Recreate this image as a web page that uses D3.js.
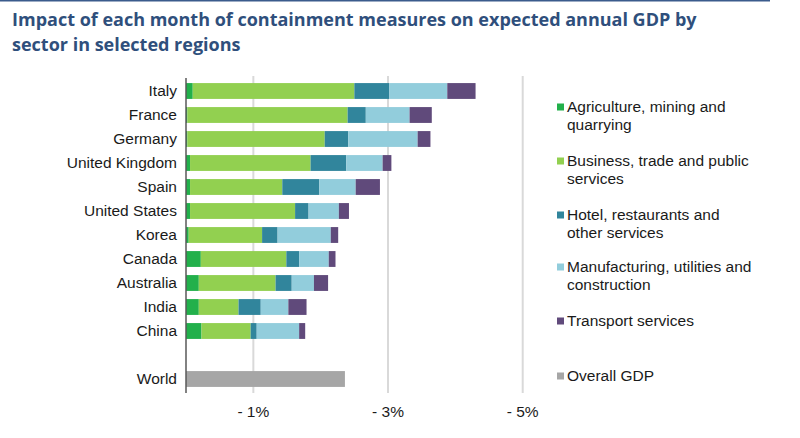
<!DOCTYPE html>
<html>
<head>
<meta charset="utf-8">
<script src="https://cdn.jsdelivr.net/npm/d3@7"></script>
<style>
  body { margin: 0; background: #fff; }
  svg { display: block; }
</style>
</head>
<body>
<div id="chart"></div>
<script>
// regions, top to bottom ("" is the empty row before World)
const regions = ["Italy", "France", "Germany", "United Kingdom", "Spain", "United States",
  "Korea", "Canada", "Australia", "India", "China", "", "World"];

const sectors = ["Agriculture, mining and quarrying", "Business, trade and public services",
  "Hotel, restaurants and other services", "Manufacturing, utilities and construction",
  "Transport services"];

// % of annual GDP lost, per sector, one entry per region (Italy..China)
const agriculture   = [0.10, 0.02, 0.02, 0.06, 0.06, 0.06, 0.04, 0.22, 0.19, 0.19, 0.23];
const business      = [2.40, 2.38, 2.04, 1.79, 1.37, 1.56, 1.09, 1.27, 1.14, 0.59, 0.73];
const hotel         = [0.52, 0.27, 0.35, 0.53, 0.55, 0.20, 0.23, 0.19, 0.24, 0.33, 0.09];
const manufacturing = [0.86, 0.65, 1.03, 0.54, 0.54, 0.45, 0.79, 0.44, 0.33, 0.41, 0.63];
const transport     = [0.42, 0.33, 0.19, 0.13, 0.36, 0.15, 0.11, 0.10, 0.21, 0.27, 0.09];

const worldGDP = 2.36;

const ticks = [1, 3, 5];

const legendLabels = [
  ["Agriculture, mining and", "quarrying"],
  ["Business, trade and public", "services"],
  ["Hotel, restaurants and", "other services"],
  ["Manufacturing, utilities and", "construction"],
  ["Transport services"],
  ["Overall GDP"]
];

const colors = ["#22b04b", "#92d050", "#31859c", "#92cddc", "#604a7b", "#a6a6a6"];

const labelFont = "'Liberation Sans', Arial, sans-serif";

const width = 800, height = 438;

const svg = d3.select("#chart").append("svg")
  .attr("width", width)
  .attr("height", height);

// top rule
svg.append("line")
  .attr("x1", 0).attr("x2", 770)
  .attr("y1", 0.5).attr("y2", 0.5)
  .attr("stroke", "#3b5b8c").attr("stroke-width", 2);

// title
const title = svg.append("text")
  .attr("font-family", "'Open Sans', sans-serif")
  .attr("font-weight", "bold")
  .attr("font-size", 18)
  .attr("fill", "#2f4f7c");
title.append("tspan").attr("x", 12).attr("y", 26)
  .text("Impact of each month of containment measures on expected annual GDP by");
title.append("tspan").attr("x", 12).attr("y", 51)
  .text("sector in selected regions");

const x = d3.scaleLinear().domain([0, 5]).range([186, 522.7]);
const y = d3.scaleBand().domain(regions).range([79, 391]).paddingInner(0.34).paddingOuter(0.17);

// gridlines
svg.append("g")
  .selectAll("line")
  .data(ticks)
  .join("line")
  .attr("x1", d => x(d)).attr("x2", d => x(d))
  .attr("y1", 76).attr("y2", 393)
  .attr("stroke", "#d9d9d9").attr("stroke-width", 2);

// stacked bars
const rows = regions.slice(0, 11).map((r, i) => ({
  region: r,
  s0: agriculture[i], s1: business[i], s2: hotel[i], s3: manufacturing[i], s4: transport[i]
}));
const stack = d3.stack().keys(["s0", "s1", "s2", "s3", "s4"]);
const series = stack(rows);

svg.append("g")
  .selectAll("g")
  .data(series)
  .join("g")
  .attr("fill", (d, i) => colors[i])
  .selectAll("rect")
  .data(d => d)
  .join("rect")
  .attr("x", d => x(d[0]))
  .attr("width", d => x(d[1]) - x(d[0]))
  .attr("y", d => y(d.data.region))
  .attr("height", y.bandwidth());

// world bar
svg.append("rect")
  .attr("x", x(0))
  .attr("y", y("World"))
  .attr("width", x(worldGDP) - x(0))
  .attr("height", y.bandwidth())
  .attr("fill", colors[5]);

// vertical axis line
svg.append("line")
  .attr("x1", x(0)).attr("x2", x(0))
  .attr("y1", 78).attr("y2", 393)
  .attr("stroke", "#595959").attr("stroke-width", 1.5);

// region labels
svg.append("g")
  .selectAll("text")
  .data(regions.filter(r => r !== ""))
  .join("text")
  .attr("x", 177)
  .attr("y", d => y(d) + y.bandwidth() / 2)
  .attr("dy", "0.35em")
  .attr("text-anchor", "end")
  .attr("font-family", labelFont)
  .attr("font-size", 15.5)
  .attr("fill", "#1a1a1a")
  .text(d => d);

// x tick labels
svg.append("g")
  .selectAll("text")
  .data(ticks)
  .join("text")
  .attr("x", d => x(d))
  .attr("y", 412)
  .attr("dy", "0.35em")
  .attr("text-anchor", "middle")
  .attr("font-family", labelFont)
  .attr("font-size", 15.5)
  .attr("fill", "#1a1a1a")
  .text(d => "- " + d + "%");

// legend
const legendY = [107, 161, 215, 267, 321, 376];
const legend = svg.append("g")
  .selectAll("g")
  .data(legendLabels)
  .join("g")
  .attr("transform", (d, i) => `translate(557, ${legendY[i]})`);

legend.append("rect")
  .attr("x", 0).attr("y", -3.5)
  .attr("width", 7).attr("height", 7)
  .attr("fill", (d, i) => colors[i]);

legend.append("text")
  .attr("font-family", labelFont)
  .attr("font-size", 15.5)
  .attr("fill", "#1a1a1a")
  .selectAll("tspan")
  .data(d => d)
  .join("tspan")
  .attr("x", 10)
  .attr("y", (d, i) => i * 18)
  .attr("dy", "0.35em")
  .text(d => d);
</script>
</body>
</html>
